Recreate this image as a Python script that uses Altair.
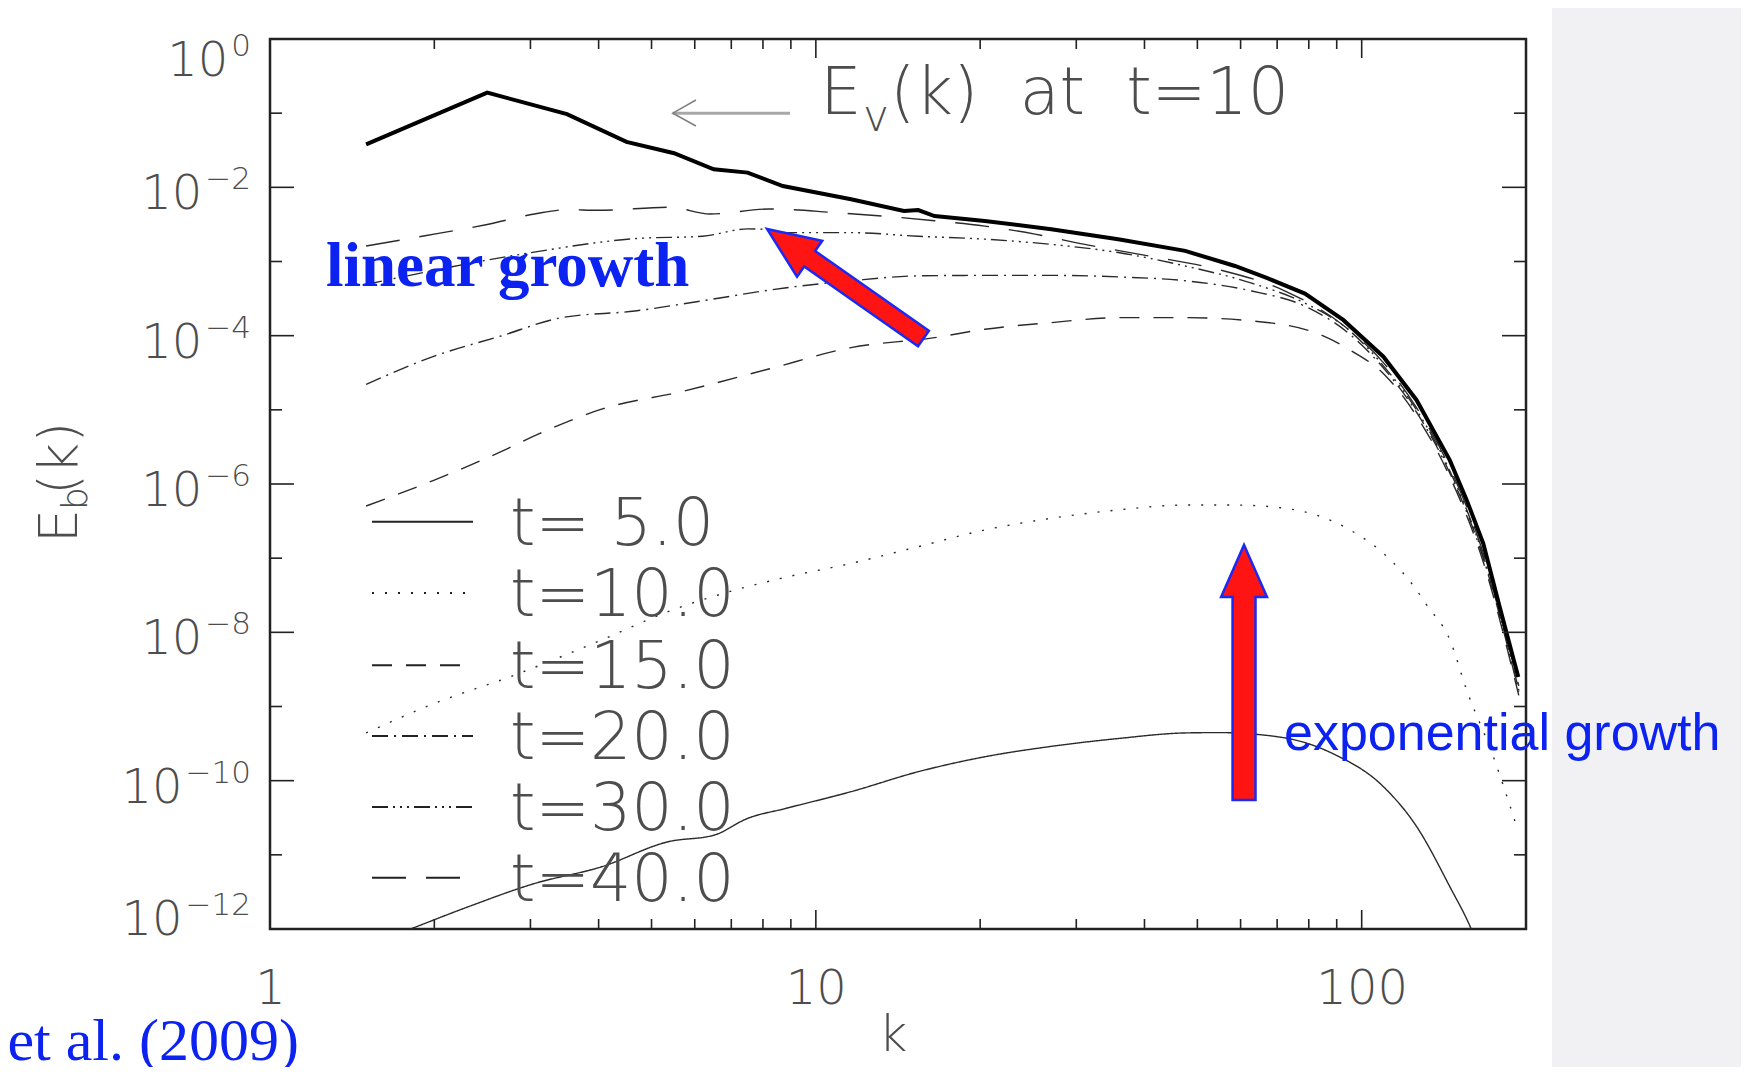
import altair as alt
import pandas as pd

# ---------------- data ----------------
series_names = ["t= 5.0", "t=10.0", "t=15.0", "t=20.0", "t=30.0", "t=40.0"]
series_dash = [[1, 0], [2, 11], [20, 14], [16, 6, 2, 6], [16, 5, 2, 5, 2, 5, 2, 5], [34, 20]]

k_t5 = [1.5, 1.79, 2.31, 3.05, 4.05, 5.36, 6.52, 7.5, 8.78, 11.6, 15.4, 20.4, 27, 35.8,
        47.5, 54.6, 71.9, 88.7, 109.6, 126.1, 145.1, 159, 172]
E_t5 = [5.9e-13, 9.7e-13, 2.0e-12, 4.1e-12, 6.9e-12, 1.5e-11, 1.85e-11, 3.1e-11, 4.2e-11,
        7.1e-11, 1.32e-10, 2.1e-10, 2.9e-10, 3.7e-10, 4.4e-10, 4.45e-10, 3.8e-10, 2.3e-10,
        8.3e-11, 2.4e-11, 3.7e-12, 9.7e-13, 2.0e-13]

k_t10 = [1.5, 2.0, 2.81, 4.05, 5.36, 7.1, 8.78, 11.6, 15.4, 20.4, 27, 35.8, 47.5, 58.6,
         72.4, 95.2, 109.6, 126.1, 131.5, 145.1, 155.7, 174.3, 192.3]
E_t10 = [4.4e-10, 1.1e-9, 2.66e-9, 7.9e-9, 1.9e-8, 3.7e-8, 5.5e-8, 8.5e-8, 1.43e-7, 2.4e-7,
         3.45e-7, 4.47e-7, 5.2e-7, 5.2e-7, 4.7e-7, 2.4e-7, 1.16e-7, 3.7e-8, 2.34e-8, 7.9e-9,
         1.67e-9, 2.1e-10, 2.4e-11]

k_t15 = [1.5, 2.0, 2.65, 3.1, 4.05, 5.75, 8.2, 11.6, 16.5, 20.4, 27, 35.8, 47.5, 62.9,
         82.7, 95.2, 110, 126, 145, 167, 194]
E_t15 = [5.05e-7, 1.13e-6, 2.73e-6, 4.7e-6, 1.02e-5, 1.8e-5, 3.55e-5, 6.9e-5, 9.4e-5,
         1.22e-4, 1.5e-4, 1.75e-4, 1.75e-4, 1.58e-4, 1.08e-4, 6.4e-5, 3.0e-5, 8.3e-6,
         1.26e-6, 8.9e-8, 1.41e-9]

k_t20 = [1.5, 2.0, 2.65, 3.42, 4.66, 6.17, 8.77, 11.6, 15.4, 20.4, 27, 35.8, 47.5, 62.9,
         78.7, 95, 110, 126, 145, 167, 194]
E_t20 = [2.2e-5, 5.3e-5, 9.9e-5, 1.75e-4, 2.15e-4, 2.94e-4, 4.4e-4, 5.5e-4, 6.4e-4, 6.5e-4,
         6.5e-4, 6.2e-4, 5.5e-4, 4.0e-4, 2.5e-4, 1.05e-4, 3.55e-5, 9.3e-6, 1.41e-6, 1.0e-7,
         1.58e-9]

k_t30 = [1.5, 2.9, 4.7, 6.2, 7.5, 8.2, 8.8, 11.6, 15.4, 20.4, 27, 35.8, 47.5, 62.9, 78.7,
         95, 110, 126, 145, 167, 194]
E_t30 = [4.9e-4, 1.26e-3, 2.04e-3, 2.19e-3, 2.75e-3, 2.7e-3, 2.45e-3, 2.45e-3, 2.19e-3,
         2.0e-3, 1.7e-3, 1.32e-3, 8.7e-4, 5.1e-4, 2.75e-4, 1.17e-4, 3.8e-5, 1.0e-5, 1.51e-6,
         1.07e-7, 1.66e-9]

k_t40 = [1.5, 1.9, 2.5, 3.05, 3.5, 4.0, 5.4, 6.4, 8.2, 10.8, 13.4, 16.5, 20.4, 25.2, 31.1,
         41.2, 54.6, 72.4, 92.5, 110, 126, 145, 167, 194]
E_t40 = [1.62e-3, 2.19e-3, 3.16e-3, 4.37e-3, 5.0e-3, 4.9e-3, 5.4e-3, 4.37e-3, 5.1e-3,
         4.57e-3, 4.07e-3, 3.55e-3, 3.0e-3, 2.34e-3, 1.7e-3, 1.17e-3, 7.8e-4, 4.0e-4,
         1.38e-4, 4.2e-5, 1.07e-5, 1.66e-6, 1.17e-7, 1.9e-9]

# kinetic spectrum E_v(k) at t=10 (thick line)
k_ev = [1.5, 2.5, 3.5, 4.5, 5.5, 6.5, 7.5, 8.7, 11.6, 14.5, 15.4, 16.5, 20.4, 27, 35.8,
        47.5, 58.6, 67, 78.7, 92.5, 109.6, 126, 145, 155.7, 167, 179, 193.6]
E_ev = [3.8e-2, 0.189, 9.7e-2, 4.1e-2, 2.88e-2, 1.75e-2, 1.58e-2, 1.04e-2, 6.9e-3, 4.8e-3,
        4.94e-3, 4.1e-3, 3.52e-3, 2.72e-3, 1.99e-3, 1.39e-3, 8.7e-4, 6.0e-4, 3.7e-4,
        1.63e-4, 5.2e-5, 1.36e-5, 2.1e-6, 6.1e-7, 1.58e-7, 2.2e-8, 2.5e-9]

# axes
x_domain = [1, 200]
y_domain = [1e-12, 1]
x_label_values = [1, 10, 100]
x_label_text = ["1", "10", "100"]
x_major = [10, 100]
x_minor = [2, 3, 4, 5, 6, 7, 8, 9, 20, 30, 40, 50, 60, 70, 80, 90]
y_label_values = [1, 1e-2, 1e-4, 1e-6, 1e-8, 1e-10, 1e-12]
y_label_exponents = ["0", "\u22122", "\u22124", "\u22126", "\u22128", "\u221210", "\u221212"]
y_major = [1e-2, 1e-4, 1e-6, 1e-8, 1e-10]
y_minor = [1e-1, 1e-3, 1e-5, 1e-7, 1e-9, 1e-11]

# legend rows (heights on the E axis)
legend_y = [3.1e-7, 3.4e-8, 3.6e-9, 4.0e-10, 4.4e-11, 4.9e-12]

# annotation anchors (data coordinates)
ev_arrow_k = [5.47, 8.97]
ev_arrow_E = 0.1
ev_head_k = [6.03, 5.47, 6.03]
ev_head_E = [0.1506, 0.1, 0.0671]
lin_text_pos = (1.266, 4.68e-4)
lin_arrow_pos = (11.32, 5.02e-4)
exp_arrow_pos = (60.88, 2.88e-9)
exp_text_pos = (72.05, 2.6e-10)

# ---------------- style ----------------
W, H = 1256, 890
FRAME = "#222222"
GRAY = "#4d4d4d"
BLUE = "#0b22f0"
RED = "#ff1414"
SANS = "DejaVu Sans"
LIGHT = 200
LABEL_SIZE = 48
EXP_SIZE = 31

xs = alt.Scale(type="log", domain=x_domain, nice=False)
ys = alt.Scale(type="log", domain=y_domain, nice=False)
dash_scale = alt.Scale(domain=series_names, range=series_dash)

x_expr = "[" + ",".join("'%s'" % s for s in x_label_text) + "][round(log(datum.value)/LN10)]"

x_axis = alt.Axis(values=x_label_values, labelExpr=x_expr, title=None, ticks=False, tickSize=0,
                  domain=False, grid=False, labelFont=SANS, labelFontSize=LABEL_SIZE,
                  labelFontWeight=LIGHT, labelColor=GRAY, labelPadding=36,
                  labelBaseline="top", labelFlush=False, labelOverlap=False)


def X(field):
    return alt.X(field, scale=xs, axis=x_axis)


def Y(field):
    return alt.Y(field, scale=ys, axis=None)


one = pd.DataFrame({"t": [""]})


def px_text(txt, x, y, **kw):
    return alt.Chart(pd.DataFrame({"t": [txt]})).mark_text(**kw).encode(
        x=alt.value(x), y=alt.value(y), text="t:N")


def data_text(txt, k, e, **kw):
    return alt.Chart(pd.DataFrame({"t": [txt], "k": [k], "E": [e]})).mark_text(**kw).encode(
        x=X("k:Q"), y=Y("E:Q"), text="t:N")


layers = []

# spectra (first, carries the x axis)
rows = []
for name, ks, es in zip(series_names, [k_t5, k_t10, k_t15, k_t20, k_t30, k_t40],
                        [E_t5, E_t10, E_t15, E_t20, E_t30, E_t40]):
    for kk, ee in zip(ks, es):
        rows.append({"series": name, "k": kk, "E": ee})
curves = pd.DataFrame(rows)

layers.append(alt.Chart(curves).mark_line(clip=True, strokeWidth=1.4, color="#2a2a2a",
                                          interpolate="monotone").encode(
    x=X("k:Q"), y=Y("E:Q"),
    strokeDash=alt.StrokeDash("series:N", scale=dash_scale, legend=None),
    detail="series:N"))

ev = pd.DataFrame({"k": k_ev, "E": E_ev})
layers.append(alt.Chart(ev).mark_line(clip=True, strokeWidth=4, color="black").encode(
    x=X("k:Q"), y=Y("E:Q")))

# grey strip at right (slide background)
layers.append(alt.Chart(one).mark_rect(color="#f1f1f4").encode(
    x=alt.value(1282), x2=alt.value(1475), y=alt.value(-40), y2=alt.value(1040)))


# inward ticks on all four sides
def xticks(vals, length):
    df = pd.DataFrame({"k": vals})
    base = alt.Chart(df).mark_rule(color=FRAME, strokeWidth=1.6)
    return [base.encode(x=X("k:Q"), y=alt.value(H), y2=alt.value(H - length)),
            base.encode(x=X("k:Q"), y=alt.value(0), y2=alt.value(length))]


def yticks(vals, length):
    df = pd.DataFrame({"E": vals})
    base = alt.Chart(df).mark_rule(color=FRAME, strokeWidth=1.6)
    return [base.encode(y=Y("E:Q"), x=alt.value(0), x2=alt.value(length)),
            base.encode(y=Y("E:Q"), x=alt.value(W), x2=alt.value(W - length))]


layers += xticks(x_major, 19) + xticks(x_minor, 10) + yticks(y_major, 24) + yticks(y_minor, 12)


# y tick labels: "10" with a raised exponent (PGPLOT style)
def exp_width(s):
    w = 0.0
    for ch in s:
        w += 0.838 if ch == "\u2212" else 0.636
    return w * EXP_SIZE


n_lab = len(y_label_values)
for i, (v, ex) in enumerate(zip(y_label_values, y_label_exponents)):
    if i == 0:
        base_dy = 37
    elif i == n_lab - 1:
        base_dy = 6
    else:
        base_dy = 22
    df = pd.DataFrame({"E": [v], "b": ["10"], "e": [ex]})
    layers.append(alt.Chart(df).mark_text(align="right", baseline="alphabetic", dy=base_dy - 20,
                                          font=SANS, fontSize=EXP_SIZE, fontWeight=LIGHT,
                                          color=GRAY).encode(
        x=alt.value(-19), y=Y("E:Q"), text="e:N"))
    layers.append(alt.Chart(df).mark_text(align="right", baseline="alphabetic", dy=base_dy,
                                          font=SANS, fontSize=LABEL_SIZE, fontWeight=LIGHT,
                                          color=GRAY).encode(
        x=alt.value(-19 - exp_width(ex) - 3), y=Y("E:Q"), text="b:N"))

# in-plot legend
leg = pd.DataFrame({"series": series_names, "E": legend_y})
layers.append(alt.Chart(leg).mark_rule(strokeWidth=2, color="#222").encode(
    x=alt.value(102), x2=alt.value(203), y=Y("E:Q"),
    strokeDash=alt.StrokeDash("series:N", scale=dash_scale, legend=None)))
layers.append(alt.Chart(leg).mark_text(align="left", baseline="alphabetic", dy=23,
                                       font=SANS, fontSize=65, fontWeight=LIGHT,
                                       color=GRAY).encode(
    x=alt.value(240), y=Y("E:Q"), text="series:N"))

# grey arrow and E_v(k) label
shaft = pd.DataFrame({"k": [ev_arrow_k[0]], "k2": [ev_arrow_k[1]], "E": [ev_arrow_E]})
layers.append(alt.Chart(shaft).mark_rule(color="#a8a8a8", strokeWidth=3).encode(
    x=X("k:Q"), x2="k2:Q", y=Y("E:Q")))
head = pd.DataFrame({"k": ev_head_k, "E": ev_head_E, "o": [0, 1, 2]})
layers.append(alt.Chart(head).mark_line(color="#808080", strokeWidth=1.6).encode(
    x=X("k:Q"), y=Y("E:Q"), order="o:Q"))

layers.append(px_text("E", 550, 75, align="left", baseline="alphabetic", font=SANS,
                      fontSize=66, fontWeight=LIGHT, color=GRAY))
layers.append(px_text("v", 593, 92, align="left", baseline="alphabetic", font=SANS,
                      fontSize=44, fontWeight=LIGHT, color=GRAY))
layers.append(px_text("(k)\u00a0\u00a0at\u00a0\u00a0t=10", 620, 75, align="left",
                      baseline="alphabetic", font=SANS, fontSize=65, fontWeight=LIGHT,
                      color=GRAY))

# axis titles
layers.append(px_text("E", -193, 504, align="left", baseline="alphabetic", angle=270,
                      font=SANS, fontSize=54, fontWeight=LIGHT, color=GRAY))
layers.append(px_text("b", -183, 471, align="left", baseline="alphabetic", angle=270,
                      font=SANS, fontSize=36, fontWeight=LIGHT, color=GRAY))
layers.append(px_text("(k)", -193, 456, align="left", baseline="alphabetic", angle=270,
                      font=SANS, fontSize=54, fontWeight=LIGHT, color=GRAY))
layers.append(px_text("k", 623, 1012, align="center", baseline="alphabetic", font=SANS,
                      fontSize=50, fontWeight=LIGHT, color=GRAY))

# red arrows
vert_path = "M0,-1L0.18,-0.592L0.09,-0.592L0.09,1L-0.09,1L-0.09,-0.592L-0.18,-0.592Z"
lin_path = "M0,-1L0.23,-0.455L0.0995,-0.455L0.0995,1L-0.0995,1L-0.0995,-0.455L-0.23,-0.455Z"

for path, pos, size, ang in [(lin_path, lin_arrow_pos, 36481, 305),
                             (vert_path, exp_arrow_pos, 65025, 0)]:
    df = pd.DataFrame({"k": [pos[0]], "E": [pos[1]]})
    kw = dict(shape=path, filled=True, fill=RED, stroke="#1a2af5", strokeWidth=2.5,
              size=size, opacity=1)
    if ang:
        kw["angle"] = ang
    layers.append(alt.Chart(df).mark_point(**kw).encode(x=X("k:Q"), y=Y("E:Q")))

layers.append(data_text("linear growth", lin_text_pos[0], lin_text_pos[1], align="left",
                        baseline="alphabetic", font="Liberation Serif", fontWeight="bold",
                        fontSize=63, color=BLUE))
layers.append(data_text("exponential growth", exp_text_pos[0], exp_text_pos[1], align="left",
                        baseline="alphabetic", font="Liberation Sans", fontSize=52,
                        color=BLUE))
layers.append(px_text("et al. (2009)", 29, 1021, align="right", baseline="alphabetic",
                      font="Liberation Serif", fontSize=60, color=BLUE))

chart = alt.layer(*layers).properties(
    width=W, height=H,
    padding={"left": 262, "top": 31, "right": 215, "bottom": 138},
    autosize=alt.AutoSizeParams(type="none"),
    background="white",
).configure_view(stroke=FRAME, strokeWidth=2.5)

chart.save("out.html", embed_options={"renderer": "svg", "actions": False})
